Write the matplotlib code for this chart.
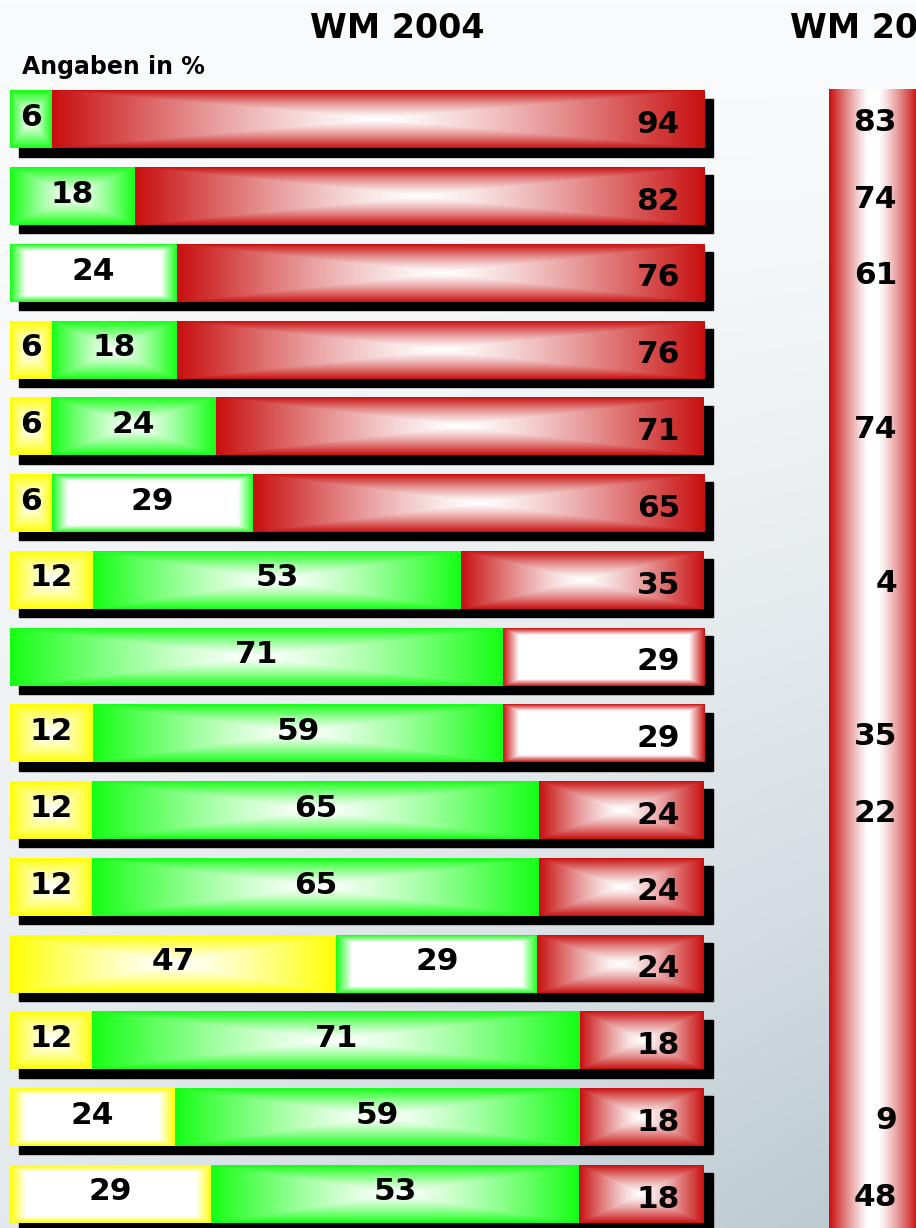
import matplotlib
matplotlib.use('Agg')
import matplotlib.pyplot as plt
from matplotlib.patches import Rectangle
import numpy as np

# --- data (Angaben in %) ---
gelb = [0, 0, 0, 6, 6, 6, 12, 0, 12, 12, 12, 47, 12, 24, 29]
gruen = [6, 18, 24, 18, 24, 29, 53, 71, 59, 65, 65, 29, 71, 59, 53]
rot = [94, 82, 76, 76, 71, 65, 35, 29, 29, 24, 24, 24, 18, 18, 18]
wm_andere = [83, 74, 61, None, 74, None, 4, None, 35, 22, None, None, None, 9, 48]

# segments drawn white with only a coloured rim (row, series)
hohl = {(2, 1), (5, 1), (7, 2), (8, 2), (11, 1), (13, 0), (14, 0)}

W, H = 916, 1228
PX_PCT = 6.94      # pixels per percent
PX_ROW = 76.75     # pixels per row
X0_PX = 10         # where 0 % sits
ROW0_PX = 119.5    # centre of first bar
BAR_H = 58 / PX_ROW

FARBEN = [np.array([255, 255, 0]) / 255,
          np.array([20, 255, 20]) / 255,
          np.array([200, 14, 14]) / 255]
WEISS = np.array([1.0, 1.0, 1.0])


def segment_bild(farbe, w_px, h_px, leer):
    nx = max(int(round(w_px)), 2)
    ny = int(round(h_px))
    xs = (np.arange(nx) + 0.5) * w_px / nx
    ys = (np.arange(ny) + 0.5) * h_px / ny
    X, Y = np.meshgrid(xs, ys)
    if leer:
        dx = np.minimum(X, w_px - X)
        dy = np.minimum(Y, h_px - Y)
        f = np.maximum(np.clip(1 - dx / 16, 0, 1), np.clip(1 - dy / 7, 0, 1))
    else:
        tx = np.abs(X - w_px / 2) / (w_px / 2)
        ty = np.abs(Y - h_px / 2) / (h_px / 2)
        f = np.maximum(tx, ty) ** 1.3
    return WEISS * (1 - f[..., None]) + farbe * f[..., None]


fig = plt.figure(figsize=(W / 100, H / 100), dpi=100)

# background gradient
bg = fig.add_axes([0, 0, 1, 1])
gx, gy = np.meshgrid(np.linspace(0, 1, 200), np.linspace(0, 1, 260))
s = gy ** 1.5 * (0.35 + 0.65 * gx)
hell = np.array([250, 251, 252]) / 255
dunkel = np.array([184, 199, 207]) / 255
bg.imshow(hell * (1 - s[..., None]) + dunkel * s[..., None], aspect='auto',
          extent=(0, 1, 1, 0))
bg.set_xlim(0, 1)
bg.set_ylim(1, 0)
bg.axis('off')

ax = fig.add_axes([0, 0, 1, 1])
ax.patch.set_alpha(0)
ax.set_xlim(-X0_PX / PX_PCT, (W - X0_PX) / PX_PCT)
ax.set_ylim((H - ROW0_PX) / PX_ROW, -ROW0_PX / PX_ROW)
ax.axis('off')

fs = 22.5
for i in range(len(rot)):
    werte = [gelb[i], gruen[i], rot[i]]
    summe = sum(werte)
    # shadow
    ax.add_patch(Rectangle((9 / PX_PCT, i - BAR_H / 2 + 8 / PX_ROW), 100, BAR_H,
                           color='black', zorder=1))
    links = 0.0
    for k, v in enumerate(werte):
        if v == 0:
            continue
        breite = v * 100 / summe
        img = segment_bild(FARBEN[k], breite * PX_PCT, BAR_H * PX_ROW, (i, k) in hohl)
        ax.imshow(img, extent=(links, links + breite, i + BAR_H / 2, i - BAR_H / 2),
                  aspect='auto', interpolation='bilinear', zorder=2)
        if k < 2:
            ax.text(links + breite / 2, i - 2 / PX_ROW, str(v), ha='center', va='center',
                    fontsize=fs, fontweight='bold', zorder=3)
        else:
            ax.text(100 - 24 / PX_PCT, i + 5 / PX_ROW, str(v), ha='right', va='center',
                    fontsize=fs, fontweight='bold', zorder=3)
        links += breite

# second column (cut off at the right edge, as in the original)
sx0, sx1 = (829 - X0_PX) / PX_PCT, (918 - X0_PX) / PX_PCT
sy0 = (89 - ROW0_PX) / PX_ROW
sy1 = (H - ROW0_PX) / PX_ROW
tx = np.abs(np.linspace(-1, 1, 90))
fcol = np.clip((tx - 0.12) / 0.88, 0, 1) ** 1.2
spalte = WEISS * (1 - fcol[None, :, None]) + FARBEN[2] * fcol[None, :, None]
ax.imshow(np.repeat(spalte, 4, axis=0), extent=(sx0, sx1, sy1, sy0), aspect='auto',
          interpolation='bilinear', zorder=2)
for i, v in enumerate(wm_andere):
    if v is None:
        continue
    ax.text((897 - X0_PX) / PX_PCT, i + 3 / PX_ROW, str(v), ha='right', va='center',
            fontsize=fs, fontweight='bold', zorder=3)

fig.text(397 / W, 1 - 28 / H, 'WM 2004', ha='center', va='center',
         fontsize=24, fontweight='bold')
fig.text(790 / W, 1 - 28 / H, 'WM 2000', ha='left', va='center',
         fontsize=24, fontweight='bold')
fig.text(22 / W, 1 - 67 / H, 'Angaben in %', ha='left', va='center',
         fontsize=17, fontweight='bold')

fig.savefig('out.png', dpi=100)
